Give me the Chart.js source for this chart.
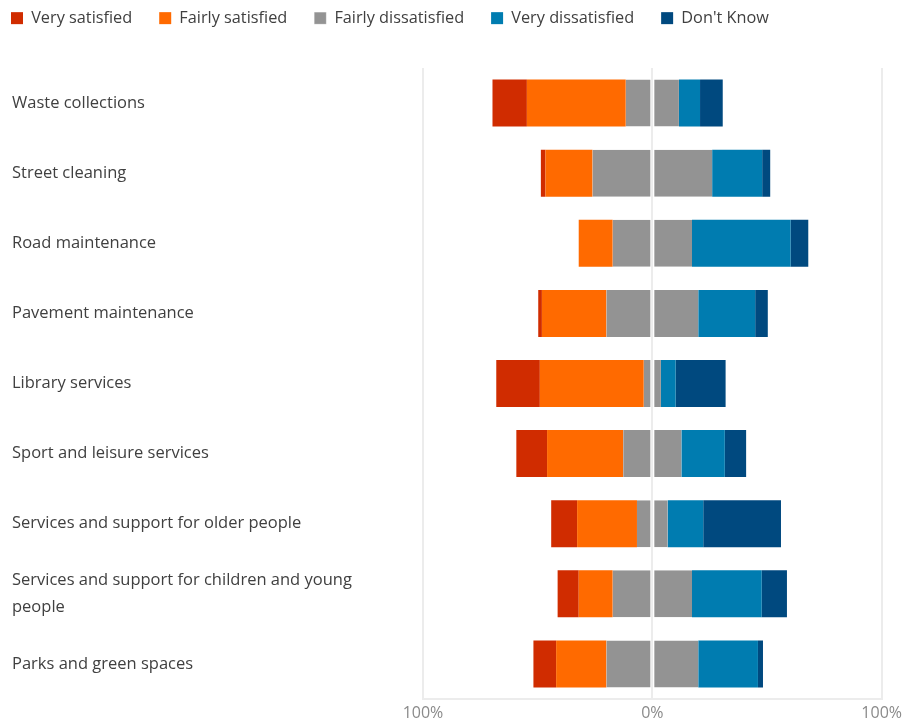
<!DOCTYPE html>
<html>
<head>
<meta charset="utf-8">
<title>Satisfaction with council services</title>
<script src="https://cdn.jsdelivr.net/npm/chart.js@4.4.1/dist/chart.umd.min.js"></script>
<style>
  html, body { margin: 0; padding: 0; background: #fff; }
  #wrap { width: 906px; height: 727px; }
</style>
</head>
<body>
<div id="wrap"><canvas id="chart" width="906" height="727"></canvas></div>
<script>
// services, top to bottom
const services = [
  'Waste collections',
  'Street cleaning',
  'Road maintenance',
  'Pavement maintenance',
  'Library services',
  'Sport and leisure services',
  'Services and support for older people',
  ['Services and support for children and young', 'people'],
  'Parks and green spaces'
];

// percentages per answer
const verySatisfied      = [15.0,  2.0,  0.0,  1.6, 19.0, 13.4, 11.3,  9.2,  9.9];
const fairlySatisfied    = [43.1, 20.5, 14.8, 28.1, 45.3, 33.2, 26.1, 14.8, 21.9];
const fairlyDissatisfied = [23.2, 52.2, 34.6, 40.1,  7.5, 25.4, 13.4, 34.6, 40.1];
const veryDissatisfied   = [ 9.2, 21.8, 43.0, 24.8,  6.4, 18.9, 15.5, 30.4, 26.0];
const dontKnow           = [ 9.9,  3.5,  7.7,  5.5, 21.8,  9.3, 33.9, 11.0,  2.2];

const xTicks = [-100, 0, 100];

const colors = {
  verySat: '#d02c00',
  fairlySat: '#ff6a00',
  fairlyDis: '#939393',
  veryDis: '#007cb0',
  dk: '#00497f'
};

// grey answer sits across the middle: half goes left, half right
const greyLeft = fairlyDissatisfied.map(v => -v / 2);
const greyRight = fairlyDissatisfied.map(v => v / 2);

// datasets listed in stacking order (closest to zero first)
const datasets = [
  { label: 'Fairly dissatisfied', data: greyLeft, backgroundColor: colors.fairlyDis,
    borderColor: '#ffffff', borderWidth: { right: 1 }, borderSkipped: false, rank: 2 },
  { label: 'Fairly dissatisfied', data: greyRight, backgroundColor: colors.fairlyDis,
    borderColor: '#ffffff', borderWidth: { left: 1 }, borderSkipped: false, rank: 99 },
  { label: 'Fairly satisfied', data: fairlySatisfied.map(v => -v), backgroundColor: colors.fairlySat, rank: 1 },
  { label: 'Very dissatisfied', data: veryDissatisfied, backgroundColor: colors.veryDis, rank: 3 },
  { label: 'Very satisfied', data: verySatisfied.map(v => -v), backgroundColor: colors.verySat, rank: 0 },
  { label: "Don't Know", data: dontKnow, backgroundColor: colors.dk, rank: 4 }
];

// legend: tighter top, flush left
const legendTweak = {
  id: 'legendTweak',
  beforeInit(chart) {
    const fit = chart.legend.fit;
    chart.legend.fit = function () {
      fit.call(this);
      this.height = 68;
    };
  },
  afterLayout(chart) {
    chart.legend.left = -16;
    chart.legend.top = -17;
  }
};

new Chart(document.getElementById('chart'), {
  type: 'bar',
  data: { labels: services, datasets: datasets },
  options: {
    indexAxis: 'y',
    responsive: false,
    animation: false,
    layout: { padding: { left: 12, right: 0, top: 0, bottom: 0 } },
    datasets: {
      bar: { categoryPercentage: 1, barPercentage: 0.67 }
    },
    plugins: {
      tooltip: { enabled: false },
      legend: {
        position: 'top',
        align: 'start',
        labels: {
          boxWidth: 12,
          boxHeight: 12,
          padding: 27,
          color: '#404040',
          font: { family: 'Open Sans', size: 16.3 },
          filter: item => item.datasetIndex !== 1,
          sort: (a, b) => datasets[a.datasetIndex].rank - datasets[b.datasetIndex].rank
        }
      }
    },
    scales: {
      x: {
        stacked: true,
        min: -100,
        max: 100,
        afterBuildTicks: axis => { axis.ticks = xTicks.map(v => ({ value: v })); },
        // let the right "100%" run a little closer to the edge
        afterFit: axis => { axis.paddingRight = Math.max(0, axis.paddingRight - 2); },
        ticks: {
          color: '#8a8a8a',
          font: { family: 'Open Sans', size: 16, lineHeight: 1.0 },
          padding: 6,
          maxRotation: 0,
          callback: v => Math.abs(v) + '%'
        },
        grid: { color: '#ececec', lineWidth: 2, drawTicks: false },
        border: { color: '#ececec', width: 2 }
      },
      y: {
        stacked: true,
        afterFit: axis => { axis.width = 411; },
        grid: { display: false },
        border: { display: false },
        ticks: {
          crossAlign: 'far',
          color: '#404040',
          font: { family: 'Open Sans', size: 16.5, lineHeight: 1.6 }
        }
      }
    }
  },
  plugins: [legendTweak]
});
</script>
</body>
</html>
